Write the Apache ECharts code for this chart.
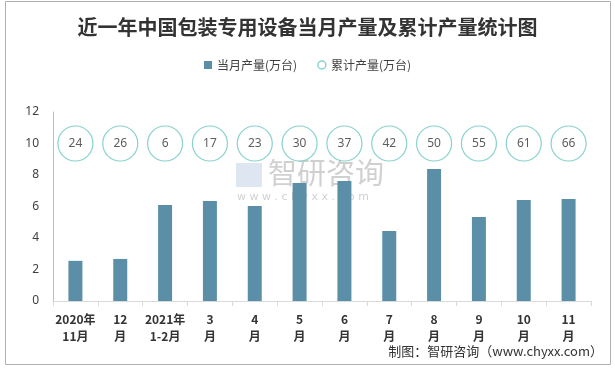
<!DOCTYPE html>
<html><head><meta charset="utf-8">
<script src="https://cdn.jsdelivr.net/npm/echarts@6/dist/echarts.min.js"></script>
<style>html,body{margin:0;padding:0;background:#fff}#c{width:615px;height:368px}</style>
</head><body><div id="c"></div>
<script>
const categories = ['2020年\n11月','12\n月','2021年\n1-2月','3\n月','4\n月','5\n月','6\n月','7\n月','8\n月','9\n月','10\n月','11\n月'];
const monthly = [2.55, 2.67, 6.1, 6.35, 6.03, 7.49, 7.62, 4.44, 8.38, 5.33, 6.41, 6.48];
const cumulative = [24, 26, 6, 17, 23, 30, 37, 42, 50, 55, 61, 66];
const yTicks = [0, 2, 4, 6, 8, 10, 12];
const circleRow = 10;

const chart = echarts.init(document.getElementById('c'));
chart.setOption({
  animation: false,
  backgroundColor: '#fff',
  title: {
    text: '近一年中国包装专用设备当月产量及累计产量统计图',
    left: 'center', top: 12,
    textStyle: {fontFamily: 'Noto Sans CJK SC', fontSize: 20, fontWeight: 'bold', color: '#333'}
  },
  legend: {
    top: 54, left: 'center', itemGap: 20, itemWidth: 8, itemHeight: 8,
    textStyle: {fontFamily: 'Noto Sans CJK SC', fontSize: 12, color: '#404040'},
    data: [
      {name: '当月产量(万台)', icon: 'rect', itemStyle: {color: '#5b8fa8'}},
      {name: '累计产量(万台)', icon: 'circle', itemStyle: {color: '#ffffff', borderColor: '#6cc7c1', borderWidth: 1.5}}
    ]
  },
  grid: {left: 53, right: 24, top: 112, bottom: 67},
  xAxis: {
    type: 'category', data: categories,
    axisLine: {lineStyle: {color: '#d9d9d9'}},
    axisTick: {show: true, length: 5, lineStyle: {color: '#d9d9d9'}},
    axisLabel: {interval: 0, margin: 10, lineHeight: 17, fontFamily: 'Noto Sans CJK SC', fontSize: 12, fontWeight: 'bold', color: '#333'}
  },
  yAxis: {
    type: 'value', min: 0, max: 12, interval: 2,
    axisLine: {show: true, lineStyle: {color: '#bfbfbf'}},
    axisTick: {show: false},
    splitLine: {show: false},
    axisLabel: {margin: 14, fontFamily: 'Noto Sans', fontSize: 12, color: '#404040',
      formatter: v => yTicks.includes(v) ? String(v) : ''}
  },
  series: [
    {
      name: '当月产量(万台)', type: 'bar', data: monthly, barWidth: 14,
      itemStyle: {color: '#5b8fa8'}
    },
    {
      name: '累计产量(万台)', type: 'scatter', data: cumulative.map(() => circleRow),
      symbol: 'circle', symbolSize: 35,
      itemStyle: {color: '#fff', borderColor: '#6cc7c1', borderWidth: 1.2},
      label: {show: true, position: 'inside', fontFamily: 'Noto Sans', fontSize: 12, color: '#333',
        formatter: p => String(cumulative[p.dataIndex])}
    }
  ],
  graphic: [
    {type: 'rect', shape: {x: 5.5, y: 1.5, width: 605, height: 363}, style: {fill: 'none', stroke: '#b0b0b0', lineWidth: 1}, silent: true},
    {type: 'text', left: 268, top: 158, style: {text: '智研咨询', font: '29px "Noto Sans CJK SC"', fill: 'rgba(150,150,150,0.45)'}, silent: true},
    {type: 'text', left: 237, top: 192, style: {text: 'w w w . c h y x x . c o m', font: '11px "DejaVu Sans"', fill: 'rgba(150,150,150,0.45)'}, silent: true},
    {type: 'rect', left: 236, top: 163, shape: {width: 26, height: 24}, style: {fill: 'rgba(160,185,215,0.35)'}, silent: true},
    {type: 'text', right: 12, top: 345, style: {text: '制图：智研咨询（www.chyxx.com）', font: '13px "Noto Sans CJK SC"', fill: '#333'}, silent: true}
  ]
});
</script></body></html>
